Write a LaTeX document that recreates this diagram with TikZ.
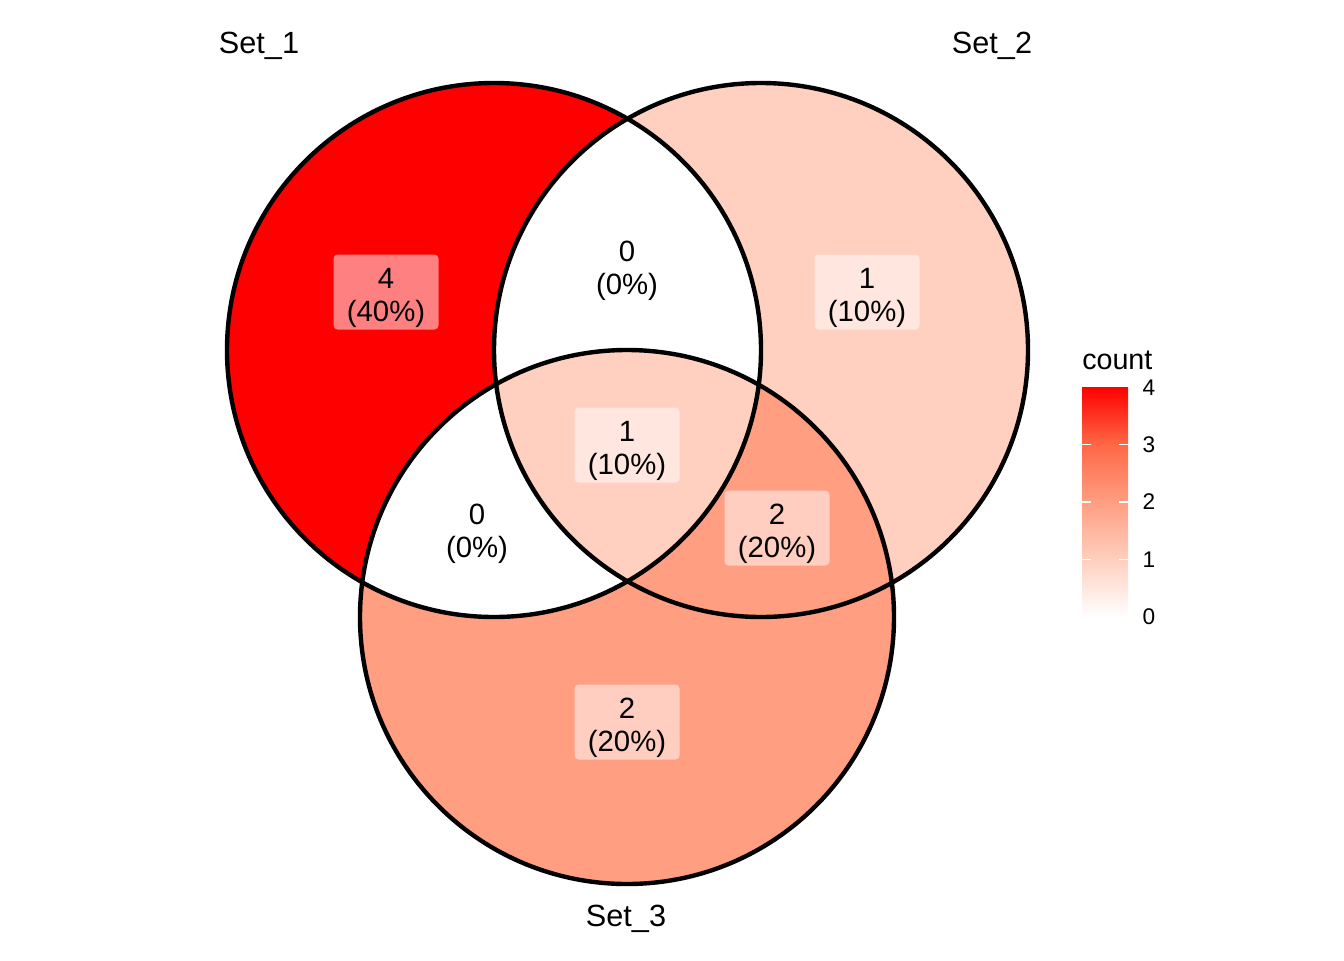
\documentclass[tikz,border=0pt]{standalone}
\usepackage{fontspec}
\setmainfont{Liberation Sans}
\definecolor{cA}{HTML}{FFCFBF}
\definecolor{cB}{HTML}{FF9E81}
\definecolor{cC}{HTML}{FF6846}
\definecolor{cD}{HTML}{FF0000}
\pgfdeclareverticalshading{countshade}{100bp}{color(0bp)=(white); color(25bp)=(white); color(37.5bp)=(cA); color(50bp)=(cB); color(62.5bp)=(cC); color(75bp)=(cD); color(100bp)=(cD)}
\begin{document}
\begin{tikzpicture}[x=0.75pt,y=-0.75pt,
  setlabel/.style={font=\fontsize{23pt}{27pt}\selectfont, inner sep=0pt},
  regionbox/.style={fill=white, fill opacity=0.5, rounded corners=3pt,
     inner sep=0pt, minimum width=78.75pt, minimum height=56.25pt},
  regiontext/.style={font=\fontsize{22pt}{24.75pt}\selectfont, align=center, inner sep=0pt},
  outline/.style={draw=black, line width=3.3pt},
  ticklabel/.style={font=\fontsize{17pt}{20pt}\selectfont, inner sep=0pt},
  tickmark/.style={draw=white, line width=1pt}]
\useasboundingbox (0,0) rectangle (1344,960);
\def\R{200.25pt}
\coordinate (c1) at (494,350);
\coordinate (c2) at (761,350);
\coordinate (c3) at (627,617);
% region fills
\fill[cA] (c2) circle[radius=\R];
\fill[cB] (c3) circle[radius=\R];
\fill[cD] (c1) circle[radius=\R];
\begin{scope}
  \clip (c1) circle[radius=\R];
  \fill[white] (c2) circle[radius=\R];
  \fill[white] (c3) circle[radius=\R];
\end{scope}
\begin{scope}
  \clip (c1) circle[radius=\R];
  \clip (c2) circle[radius=\R];
  \fill[cA] (c3) circle[radius=\R];
\end{scope}
% outlines
\draw[outline] (c1) circle[radius=\R];
\draw[outline] (c2) circle[radius=\R];
\draw[outline] (c3) circle[radius=\R];
% region labels
\foreach \n/\x/\y/\t in {r1/386/292/{4\\(40\%)}, r12/627/265/{0\\(0\%)}, r2/867/292/{1\\(10\%)},
   r123/627/445/{1\\(10\%)}, r13/477/528/{0\\(0\%)}, r23/777/528/{2\\(20\%)}, r3/627/722/{2\\(20\%)}}{
  \node[regionbox] (\n box) at (\x,\y) {};
  \node[regiontext] (\n) at ([yshift=-4.5pt]\n box.center) {\t};
}
% set labels
\node[setlabel] (s1) at (259,46) {Set\_1};
\node[setlabel] (s2) at (992,46) {Set\_2};
\node[setlabel] (s3) at (626,919) {Set\_3};
% legend
\node[setlabel, font=\fontsize{21.5pt}{26pt}\selectfont, anchor=west] (lt) at (1082,360) {count};
\shade[shading=countshade] (1082,387) rectangle (1128,617);
\foreach \v/\y in {3/444.5,2/502,1/559.5}{
  \draw[tickmark] (1082,\y) -- (1091,\y);
  \draw[tickmark] (1119,\y) -- (1128,\y);
}
\foreach \v/\y in {4/388,3/444.5,2/502,1/559.5,0/617}{
  \node[ticklabel] (t\v) at (1149,\y) {\v};
}
\end{tikzpicture}
\end{document}
